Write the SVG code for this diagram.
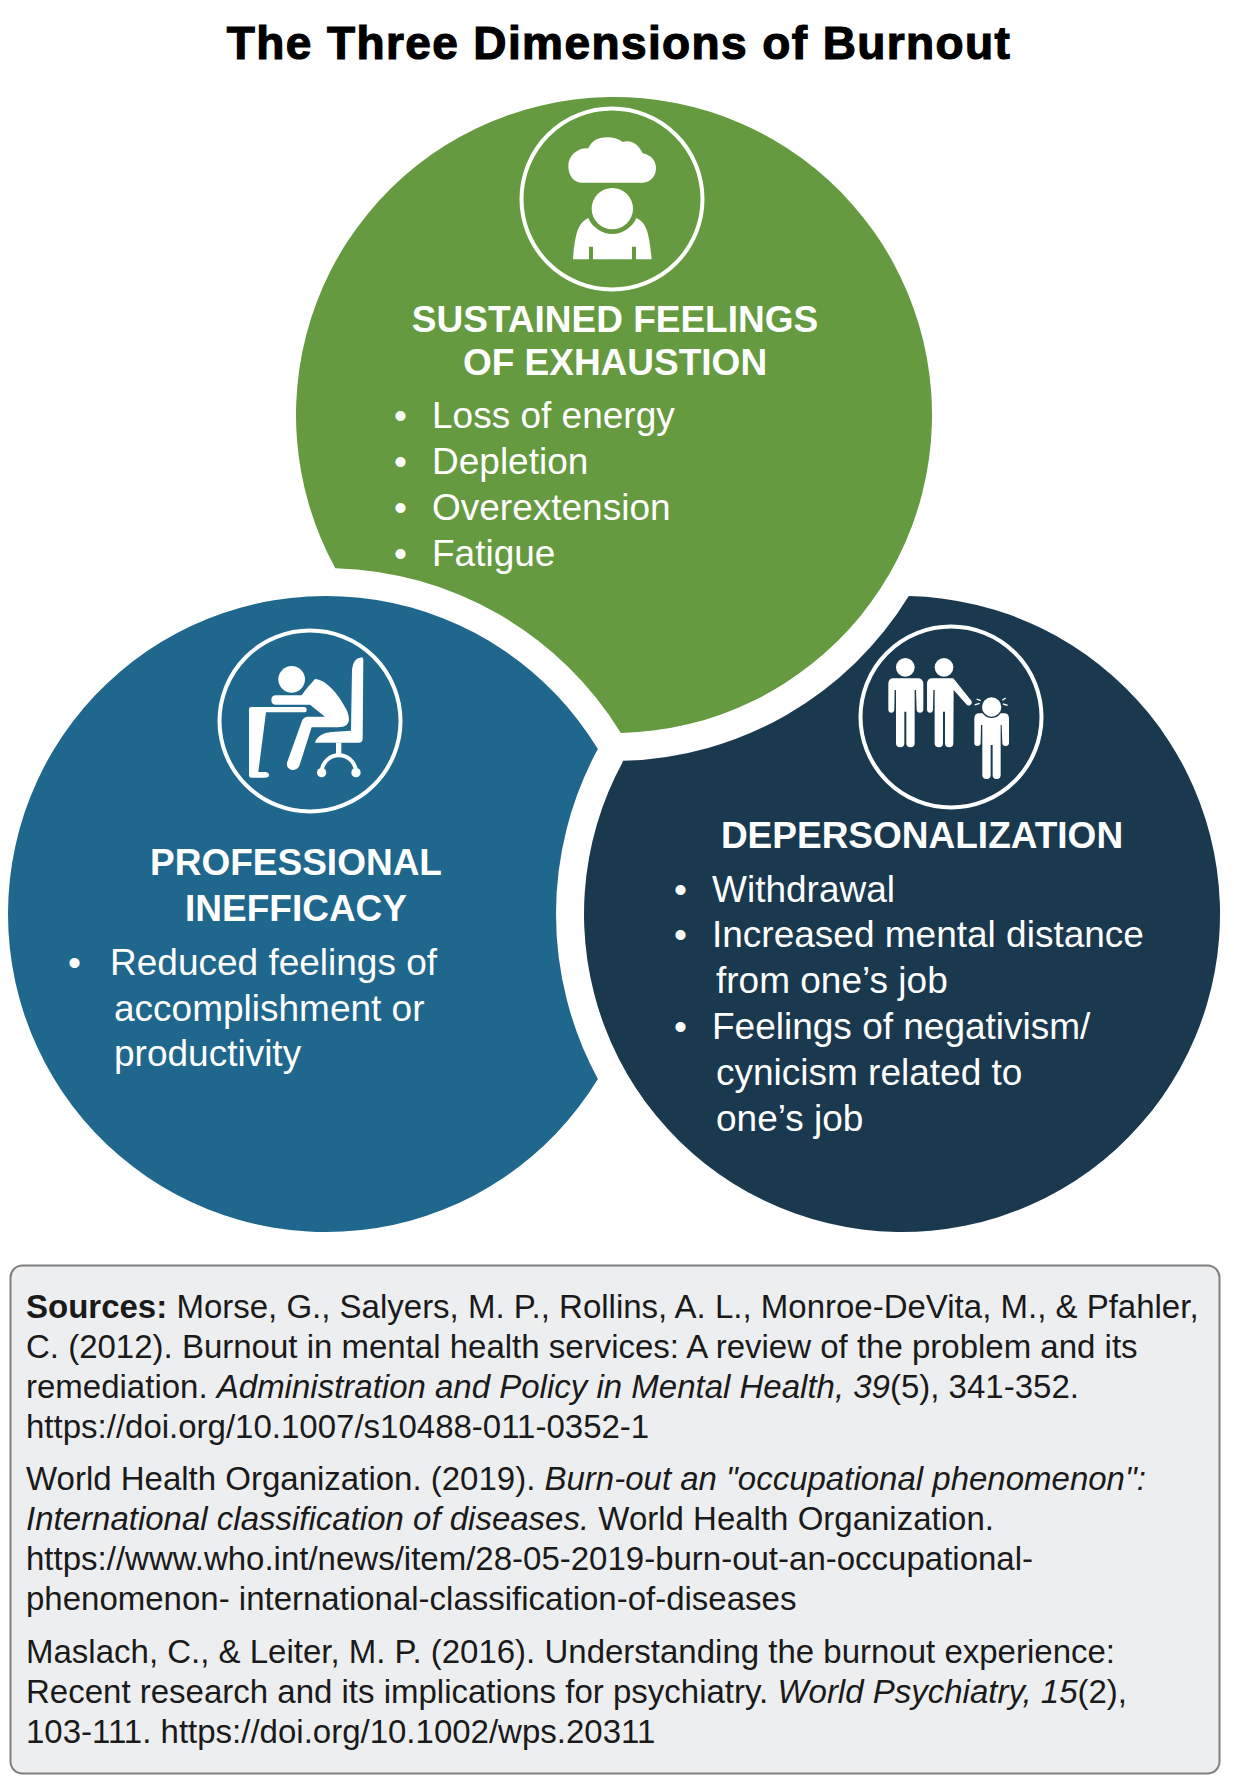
<svg xmlns="http://www.w3.org/2000/svg" width="1234" height="1791" viewBox="0 0 1234 1791">
<style>
text{font-family:"Liberation Sans",Arial,sans-serif}
.title{font-size:46px;font-weight:700;fill:#000;stroke:#000;stroke-width:1.2px;text-anchor:middle;letter-spacing:1.4px}
.h{font-size:37px;font-weight:700;fill:#fff;text-anchor:middle}
.b{font-size:37px;fill:#fff}
.s{font-size:33px;fill:#1a1a1a}
.ring{fill:none;stroke:#fff;stroke-width:4}
.w{fill:#fff}
i{font-style:italic}
.it{font-style:italic}
</style>
<rect width="1234" height="1791" fill="#fff"/>
<text class="title" x="619" y="59">The Three Dimensions of Burnout</text>

<g id="node-inefficacy">
<path d="M597.86 1078.97A318 318 0 1 1 597.86 749.03A346 346 0 0 0 597.86 1078.97Z" fill="#1f678c"/>
<circle class="ring" cx="310" cy="721" r="90.5"/>
<g class="w" transform="translate(200,610) scale(.3333)">
<circle cx="275" cy="208" r="40"/>
<path d="M486 142C470 145 460 150 456 180L453 362L395 366C370 368 350 380 345 398L476 398Q488 398 488 386L490 150Q490 142 486 142Z"/>
<rect x="408" y="398" width="16" height="34"/>
<path d="M365 488C365 455 392 436 416 436C442 436 468 455 468 488" fill="none" stroke="#fff" stroke-width="12"/>
<circle cx="365" cy="488" r="14"/><circle cx="468" cy="488" r="14"/>
<path d="M147 298Q147 291 154 291L312 291Q320 291 320 299Q320 307 312 307L198 307L175 486L195 486Q207 487 207 495Q207 503 195 503L155 503Q147 503 147 495Z"/>
<path d="M318 238L345 207C375 207 415 250 440 300C455 335 445 352 415 352L335 352L298 468Q290 482 275 480Q258 475 261 458L305 335Q310 320 325 320L375 320L330 284L228 284Q214 284 214 270Q214 256 228 256L305 256Z"/>
</g>
<text class="h" x="296" y="875">PROFESSIONAL</text>
<text class="h" x="296" y="921">INEFFICACY</text>
<text class="b" x="68" y="975">•</text>
<text class="b" x="110" y="975">Reduced feelings of</text>
<text class="b" x="114" y="1021">accomplishment or</text>
<text class="b" x="114" y="1066">productivity</text>
</g>

<g id="node-depersonalization">
<path d="M908.8 596.1A318 318 0 1 1 623.34 760.85A346 346 0 0 0 908.8 596.1Z" fill="#1a394f"/>
<circle class="ring" cx="951" cy="717" r="90.5"/>
<g class="w" transform="translate(840,610) scale(.3333)">
<circle cx="196" cy="172" r="28"/>
<path d="M160 205L232 205Q250 205 250 222L250 298Q250 308 240 308Q230 308 230 298L228 240L224 240L224 400Q224 412 212 412Q199 412 199 400L199 305L193 305L193 400Q193 412 181 412Q168 412 168 400L168 240L164 240L163 298Q163 308 154 308Q145 308 145 298L145 222Q145 205 160 205Z"/>
<circle cx="312" cy="172" r="28"/>
<path d="M277 205L340 205L394 272Q398 280 391 285Q385 289 379 283L341 240L340 400Q340 412 328 412Q315 412 315 400L315 305L309 305L309 400Q309 412 297 412Q284 412 284 400L284 240L280 240L279 298Q279 308 270 308Q261 308 261 298L261 222Q261 205 277 205Z"/>
<path d="M418 310L492 310Q507 310 507 326L507 398Q507 408 497 408Q487 408 487 398L485 345L482 345L482 495Q482 507 470 507Q458 507 458 495L458 405L452 405L452 495Q452 507 440 507Q427 507 427 495L427 345L423 345L422 398Q422 408 412 408Q403 408 403 398L403 326Q403 310 418 310Z"/>
<circle cx="455" cy="291" r="33" fill="#1a394f"/>
<circle cx="455" cy="291" r="29"/>
<path d="M404 285L419 280M410 267L422 272M487 271L497 264M489 282L503 286" stroke="#fff" stroke-width="4" fill="none"/>
</g>
<text class="h" x="922" y="848">DEPERSONALIZATION</text>
<text class="b" x="674" y="902">•</text>
<text class="b" x="712" y="902">Withdrawal</text>
<text class="b" x="674" y="947">•</text>
<text class="b" x="712" y="947">Increased mental distance</text>
<text class="b" x="716" y="993">from one’s job</text>
<text class="b" x="674" y="1039">•</text>
<text class="b" x="712" y="1039">Feelings of negativism/</text>
<text class="b" x="716" y="1085">cynicism related to</text>
<text class="b" x="716" y="1131">one’s job</text>
</g>

<g id="node-exhaustion">
<path d="M335.34 568.15A318 318 0 1 1 620.8 732.9A346 346 0 0 0 335.34 568.15Z" fill="#669a40"/>
<circle class="ring" cx="612" cy="199" r="90.5"/>
<g class="w" transform="translate(500,90) scale(.3333)">
<path d="M245 278C220 278 205 255 205 228C205 195 235 172 265 175C275 150 300 142 320 142C340 142 358 148 368 156C390 148 415 160 428 190C452 195 468 210 468 235C468 258 452 278 428 278Z"/>
<circle cx="337" cy="356" r="62"/>
<path d="M265 384C275 410 305 432 337 432C369 432 399 410 409 384C440 398 448 430 455 508L408 508L408 470L396 470L396 508L279 508L279 470L267 470L267 508L219 508C225 430 235 398 265 384Z"/>
</g>
<text class="h" x="615" y="332">SUSTAINED FEELINGS</text>
<text class="h" x="615" y="375">OF EXHAUSTION</text>
<text class="b" x="394" y="428">•</text>
<text class="b" x="432" y="428">Loss of energy</text>
<text class="b" x="394" y="474">•</text>
<text class="b" x="432" y="474">Depletion</text>
<text class="b" x="394" y="520">•</text>
<text class="b" x="432" y="520">Overextension</text>
<text class="b" x="394" y="566">•</text>
<text class="b" x="432" y="566">Fatigue</text>
</g>

<g id="node-sources">
<rect x="10.5" y="1265.5" width="1209" height="508" rx="12" fill="#edeef0" stroke="#7f7f7f" stroke-width="2"/>
<text class="s" x="26" y="1318"><tspan font-weight="700">Sources:</tspan> Morse, G., Salyers, M. P., Rollins, A. L., Monroe-DeVita, M., &amp; Pfahler,</text>
<text class="s" x="26" y="1358">C. (2012). Burnout in mental health services: A review of the problem and its</text>
<text class="s" x="26" y="1398">remediation. <tspan class="it">Administration and Policy in Mental Health, 39</tspan>(5), 341-352.</text>
<text class="s" x="26" y="1438">https://doi.org/10.1007/s10488-011-0352-1</text>
<text class="s" x="26" y="1490">World Health Organization. (2019). <tspan class="it">Burn-out an "occupational phenomenon":</tspan></text>
<text class="s" x="26" y="1530"><tspan class="it">International classification of diseases.</tspan> World Health Organization.</text>
<text class="s" x="26" y="1570">https://www.who.int/news/item/28-05-2019-burn-out-an-occupational-</text>
<text class="s" x="26" y="1610">phenomenon- international-classification-of-diseases</text>
<text class="s" x="26" y="1663">Maslach, C., &amp; Leiter, M. P. (2016). Understanding the burnout experience:</text>
<text class="s" x="26" y="1703">Recent research and its implications for psychiatry. <tspan class="it">World Psychiatry, 15</tspan>(2),</text>
<text class="s" x="26" y="1743">103-111. https://doi.org/10.1002/wps.20311</text>
</g>
</svg>
